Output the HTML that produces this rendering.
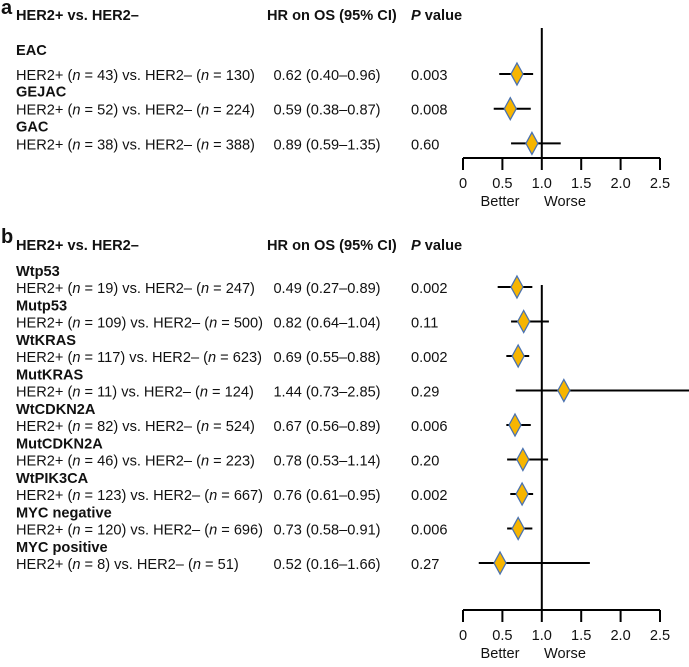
<!DOCTYPE html>
<html><head><meta charset="utf-8"><style>
html,body{margin:0;padding:0;background:#fff;}
svg text{font-family:"Liberation Sans",Arial,sans-serif;font-size:14.6px;fill:#111;}
.b{font-weight:bold;}
</style></head><body>
<svg id="chart" width="689" height="662" viewBox="0 0 689 662" xmlns="http://www.w3.org/2000/svg"></svg>
<script>
// Panel a data
const groupsA = ["EAC","GEJAC","GAC"];
const rowsA = ["HER2+ (|n| = 43) vs. HER2– (|n| = 130)","HER2+ (|n| = 52) vs. HER2– (|n| = 224)","HER2+ (|n| = 38) vs. HER2– (|n| = 388)"];
const hrTextA = ["0.62 (0.40–0.96)","0.59 (0.38–0.87)","0.89 (0.59–1.35)"];
const pA = ["0.003","0.008","0.60"];
const hrA = [0.685,0.60,0.875];
const loA = [0.46,0.39,0.61];
const hiA = [0.89,0.86,1.24];
// Panel b data
const groupsB = ["Wtp53","Mutp53","WtKRAS","MutKRAS","WtCDKN2A","MutCDKN2A","WtPIK3CA","MYC negative","MYC positive"];
const rowsB = ["HER2+ (|n| = 19) vs. HER2– (|n| = 247)","HER2+ (|n| = 109) vs. HER2– (|n| = 500)","HER2+ (|n| = 117) vs. HER2– (|n| = 623)","HER2+ (|n| = 11) vs. HER2– (|n| = 124)","HER2+ (|n| = 82) vs. HER2– (|n| = 524)","HER2+ (|n| = 46) vs. HER2– (|n| = 223)","HER2+ (|n| = 123) vs. HER2– (|n| = 667)","HER2+ (|n| = 120) vs. HER2– (|n| = 696)","HER2+ (|n| = 8) vs. HER2– (|n| = 51)"];
const hrTextB = ["0.49 (0.27–0.89)","0.82 (0.64–1.04)","0.69 (0.55–0.88)","1.44 (0.73–2.85)","0.67 (0.56–0.89)","0.78 (0.53–1.14)","0.76 (0.61–0.95)","0.73 (0.58–0.91)","0.52 (0.16–1.66)"];
const pB = ["0.002","0.11","0.002","0.29","0.006","0.20","0.002","0.006","0.27"];
const hrB = [0.685,0.77,0.70,1.28,0.66,0.76,0.75,0.70,0.47];
const loB = [0.44,0.61,0.55,0.67,0.55,0.56,0.60,0.56,0.20];
const hiB = [0.88,1.09,0.84,2.95,0.86,1.08,0.89,0.88,1.61];
const ticks = [0,0.5,1.0,1.5,2.0,2.5];
const tickLabels = ["0","0.5","1.0","1.5","2.0","2.5"];

const NS="http://www.w3.org/2000/svg";
const svg=document.getElementById('chart');
function xS(v){return 463+v*(660-463)/2.5;}
function mk(tag,attrs,parent){const e=document.createElementNS(NS,tag);for(const k in attrs)e.setAttribute(k,attrs[k]);(parent||svg).appendChild(e);return e;}
function txt(x,y,s,cls,anchor){
  const t=mk('text',{x:x,y:y});
  if(cls)t.setAttribute('class',cls);
  if(anchor)t.setAttribute('text-anchor',anchor);
  const parts=s.split('|');
  parts.forEach((p,i)=>{const sp=document.createElementNS(NS,'tspan');sp.textContent=p;if(i%2===1)sp.setAttribute('font-style','italic');t.appendChild(sp);});
  return t;
}
function panel(letter,topY,headerY,groups,rows,hrT,ps,hr,lo,hi,rowY0,rowStep,groupOff,vTop,axisY){
  let t=txt(1,topY,letter,'b');t.setAttribute('style','font-size:20px');
  
  
  t=txt(16,headerY,'HER2+ vs. HER2–','b');
  
  
  t=txt(267,headerY,'HR on OS (95% CI)','b');
  
  
  t=txt(411,headerY,'|P| value','b');
  
  
  let l=mk('line',{x1:xS(1),x2:xS(1),y1:vTop,y2:axisY,stroke:'#000','stroke-width':2});
  
  
  l=mk('line',{x1:xS(0),x2:xS(2.5),y1:axisY,y2:axisY,stroke:'#000','stroke-width':2});
  
  
  ticks.forEach((v,i)=>{
    const tk=mk('line',{x1:xS(v),x2:xS(v),y1:axisY,y2:axisY+12,stroke:'#000','stroke-width':2});
    
    
    const tl=txt(xS(v),axisY+30,tickLabels[i],null,'middle');
    
    
  });
  t=txt(500,axisY+48,'Better',null,'middle');
  
  
  t=txt(565,axisY+48,'Worse',null,'middle');
  
  
  rows.forEach((r,i)=>{
    const y=rowY0+i*rowStep;
    const gl=txt(16,y-(i===0&&groupOff[1]?groupOff[1]:groupOff[0]),groups[i],'b');
    
    
    const rl=txt(16,y,r);
    
    
    const hl=txt(327,y,hrT[i],null,'middle');
    
    
    const pl=txt(411,y,ps[i]);
    
    
    const cy=y-6;
    const ci=mk('line',{x1:xS(lo[i]),x2:Math.min(xS(hi[i]),689),y1:cy,y2:cy,stroke:'#000','stroke-width':2});
    
    
    const cx=xS(hr[i]);
    const d=mk('polygon',{points:`${cx},${cy-11} ${cx+6},${cy} ${cx},${cy+11} ${cx-6},${cy}`,fill:'#F7B500',stroke:'#4A72B0','stroke-width':1.3});
    
    
  });
}
panel('a',14,20,groupsA,rowsA,hrTextA,pA,hrA,loA,hiA,80,34.7,[18,25],28,158);
panel('b',243,250,groupsB,rowsB,hrTextB,pB,hrB,loB,hiB,293,34.5,[17,0],285,610);
</script>
</body></html>
